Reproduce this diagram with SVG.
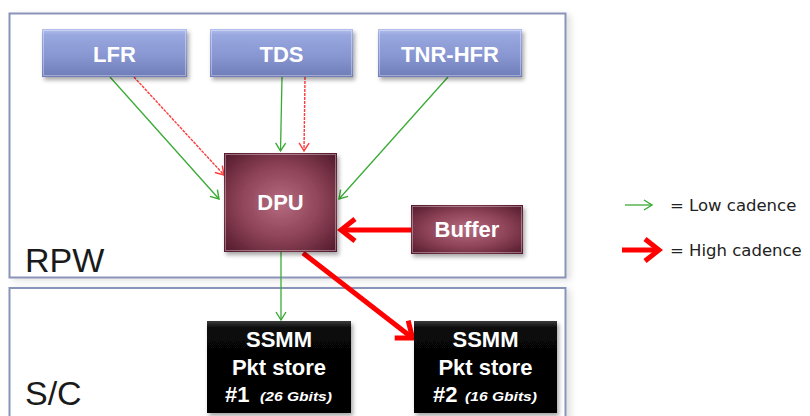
<svg xmlns="http://www.w3.org/2000/svg" width="810" height="416" viewBox="0 0 810 416">
  <defs>
    <style>
      .frame { fill: #ffffff; stroke: #8a93b8; stroke-width: 2; }
      .zone { font-family: "Liberation Sans", Arial, sans-serif; font-size: 34px; fill: #1a1a1a; }
      .lbl { font-family: "Liberation Sans", Arial, sans-serif; font-weight: bold; font-size: 22px; fill: #ffffff; text-anchor: middle; }
      .lbl-s { font-family: "Liberation Sans", Arial, sans-serif; font-weight: bold; font-style: italic; font-size: 12px; fill: #ffffff; }
      .legend { font-family: "DejaVu Sans", sans-serif; font-size: 16.5px; fill: #222222; }
      .low { stroke: #3aaa35; stroke-width: 1.3; fill: none; }
      .high-thin { stroke: #ff3b3b; stroke-width: 1.4; fill: none; stroke-dasharray: 3 1; }
      .high { stroke: #ff0000; stroke-width: 5; fill: none; }
      .bevel { fill: none; stroke: #ffffff; stroke-opacity: 0.35; stroke-width: 1; }
    </style>
    <linearGradient id="gBlue" x1="0" y1="0" x2="0" y2="1">
      <stop offset="0" stop-color="#b4c0ec"/>
      <stop offset="0.12" stop-color="#9aa8e0"/>
      <stop offset="0.6" stop-color="#8694d0"/>
      <stop offset="1" stop-color="#6e7cb8"/>
    </linearGradient>
    <radialGradient id="gMaroon" cx="0.5" cy="0.5" r="0.65">
      <stop offset="0" stop-color="#b66c80"/>
      <stop offset="0.55" stop-color="#8e4358"/>
      <stop offset="1" stop-color="#5a1f31"/>
    </radialGradient>
    <linearGradient id="gBlack" x1="0" y1="0" x2="0" y2="1">
      <stop offset="0" stop-color="#3a3a3a"/>
      <stop offset="0.08" stop-color="#080808"/>
      <stop offset="1" stop-color="#000000"/>
    </linearGradient>
    <filter id="shadow" x="-10%" y="-10%" width="130%" height="140%">
      <feDropShadow dx="2" dy="3" stdDeviation="2" flood-color="#000000" flood-opacity="0.35"/>
    </filter>
    <filter id="soft" x="-5%" y="-5%" width="115%" height="115%">
      <feDropShadow dx="4" dy="2" stdDeviation="3" flood-color="#000000" flood-opacity="0.12"/>
    </filter>
    <marker id="headLow" markerUnits="userSpaceOnUse" viewBox="-10 -7 12 14" markerWidth="12" markerHeight="14" refX="0" refY="0" orient="auto">
      <path d="M -8 -5 L 0 0 L -8 5" fill="none" stroke="#3aaa35" stroke-width="1.4"/>
    </marker>
    <marker id="headRedThin" markerUnits="userSpaceOnUse" viewBox="-10 -7 12 14" markerWidth="12" markerHeight="14" refX="0" refY="0" orient="auto">
      <path d="M -8 -5 L 0 0 L -8 5" fill="none" stroke="#ff3b3b" stroke-width="1.4"/>
    </marker>
    <marker id="headHigh" markerUnits="userSpaceOnUse" viewBox="-20 -16 24 32" markerWidth="24" markerHeight="32" refX="0" refY="0" orient="auto">
      <path d="M -14 -11 L 0 0 L -14 11" fill="none" stroke="#ff0000" stroke-width="5" stroke-linejoin="miter"/>
    </marker>
  </defs>

  <rect width="810" height="416" fill="#ffffff"/>

  <!-- instrument and spacecraft frames -->
  <g id="frame-rpw">
    <rect class="frame" x="9.5" y="13.5" width="556" height="264" filter="url(#soft)"/>
    <text class="zone" x="25" y="272">RPW</text>
  </g>
  <g id="frame-sc">
    <rect class="frame" x="9.5" y="288" width="556" height="140" filter="url(#soft)"/>
    <text class="zone" x="25" y="405">S/C</text>
  </g>

  <!-- connectors -->
  <g id="connectors">
    <line class="low" x1="110" y1="77" x2="219" y2="199" marker-end="url(#headLow)"/>
    <line class="high-thin" x1="134" y1="77" x2="224" y2="175" marker-end="url(#headRedThin)"/>
    <line class="low" x1="282" y1="77" x2="280.5" y2="151" marker-end="url(#headLow)"/>
    <line class="high-thin" x1="305" y1="77" x2="304" y2="151" marker-end="url(#headRedThin)"/>
    <line class="low" x1="448" y1="77" x2="339" y2="199" marker-end="url(#headLow)"/>
    <line class="high" x1="411" y1="230" x2="341" y2="230" marker-end="url(#headHigh)"/>
    <line class="low" x1="281" y1="252" x2="281" y2="320" marker-end="url(#headLow)"/>
    <line class="high" x1="303" y1="253" x2="412.5" y2="338" marker-end="url(#headHigh)"/>
  </g>

  <!-- receivers -->
  <g id="node-lfr">
    <rect x="42" y="29" width="145" height="48" fill="url(#gBlue)" filter="url(#shadow)"/>
    <rect class="bevel" x="43.5" y="30.5" width="142" height="45"/>
    <text class="lbl" x="114.5" y="62">LFR</text>
  </g>
  <g id="node-tds">
    <rect x="210" y="29" width="143" height="48" fill="url(#gBlue)" filter="url(#shadow)"/>
    <rect class="bevel" x="211.5" y="30.5" width="140" height="45"/>
    <text class="lbl" x="281.5" y="62">TDS</text>
  </g>
  <g id="node-tnr-hfr">
    <rect x="378" y="29" width="144" height="48" fill="url(#gBlue)" filter="url(#shadow)"/>
    <rect class="bevel" x="379.5" y="30.5" width="141" height="45"/>
    <text class="lbl" x="450" y="62">TNR-HFR</text>
  </g>

  <!-- processing -->
  <g id="node-dpu">
    <rect x="224" y="153" width="113" height="99" fill="url(#gMaroon)" filter="url(#shadow)"/>
    <rect class="bevel" x="225.5" y="154.5" width="110" height="96"/>
    <text class="lbl" x="280.5" y="210" fill="#f3e9ec">DPU</text>
  </g>
  <g id="node-buffer">
    <rect x="411" y="205" width="112" height="49" fill="url(#gMaroon)" filter="url(#shadow)"/>
    <rect class="bevel" x="412.5" y="206.5" width="109" height="46"/>
    <text class="lbl" x="467" y="237" fill="#f3e9ec">Buffer</text>
  </g>

  <!-- mass memory -->
  <g id="node-ssmm1">
    <rect x="207" y="321" width="144" height="92" fill="url(#gBlack)" filter="url(#shadow)"/>
    <text class="lbl" x="279" y="347">SSMM</text>
    <text class="lbl" x="279" y="375">Pkt store</text>
    <text class="lbl" x="225" y="402" style="text-anchor:start">#1</text>
    <text class="lbl-s" x="260" y="401" textLength="72" lengthAdjust="spacingAndGlyphs">(26 Gbits)</text>
  </g>
  <g id="node-ssmm2">
    <rect x="414" y="321" width="143" height="92" fill="url(#gBlack)" filter="url(#shadow)"/>
    <text class="lbl" x="485.5" y="347">SSMM</text>
    <text class="lbl" x="485.5" y="375">Pkt store</text>
    <text class="lbl" x="433" y="402" style="text-anchor:start">#2</text>
    <text class="lbl-s" x="465" y="401" textLength="72" lengthAdjust="spacingAndGlyphs">(16 Gbits)</text>
  </g>

  <!-- legend -->
  <g id="legend">
    <line class="low" x1="625" y1="205" x2="652" y2="205" marker-end="url(#headLow)"/>
    <text class="legend" x="670" y="211">= Low cadence</text>
    <line class="high" x1="622" y1="250" x2="659" y2="250" marker-end="url(#headHigh)"/>
    <text class="legend" x="670" y="256">= High cadence</text>
  </g>
</svg>
